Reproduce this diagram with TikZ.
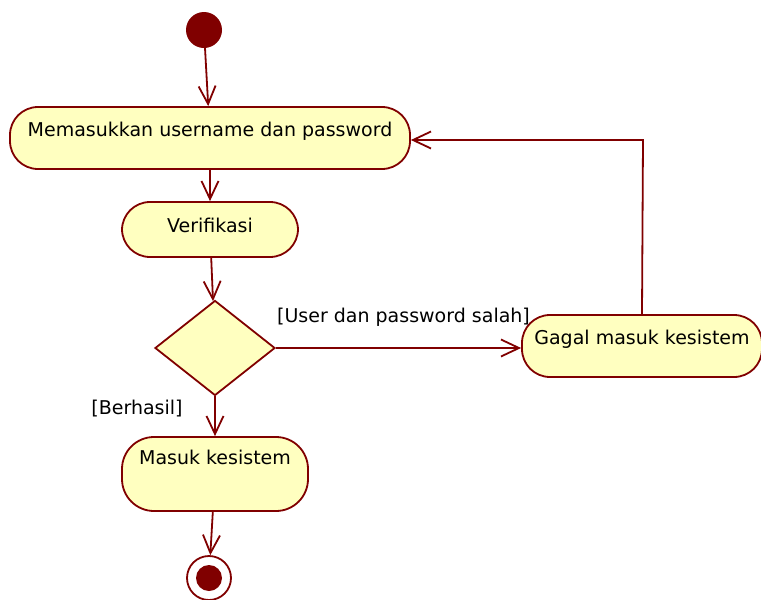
\documentclass[tikz,border=0pt]{standalone}
\usepackage{fontspec}
\setmainfont{DejaVu Sans}
\usepackage{xcolor}
\usepackage{tikz}
\usetikzlibrary{shapes.geometric,arrows.meta,calc}
\definecolor{umlred}{HTML}{800000}
\definecolor{umlfill}{HTML}{FFFFC0}

\begin{document}
\begin{tikzpicture}[x=1pt,y=-1pt]
            \tikzstyle{aktivitas}=[draw=umlred, fill=umlfill, line width=1.8pt, rounded corners=28pt, text height=13pt, text depth=16pt, inner sep=3pt, font=\fontsize{19}{22}\selectfont];
            \tikzstyle{panah}=[draw=umlred, line width=1.8pt, -{Straight Barb[length=18pt,width=17pt]}];
            \useasboundingbox (0,0) rectangle (761,600);

            % Start node
            \node[circle, fill=umlred, minimum size=36pt, inner sep=0pt] (mulai) at (204,30) {};

            % Activities
            \node[aktivitas, minimum width=400pt, minimum height=62pt] (masukan) at (210,138) {Memasukkan username dan password};
            \node[aktivitas, minimum width=176pt, minimum height=55pt, text depth=7pt] (verifikasi) at (210,229.5) {Verifikasi};
            \node[aktivitas, minimum width=240pt, minimum height=62pt] (gagal) at (642,346) {Gagal masuk kesistem};
            \node[aktivitas, minimum width=186pt, minimum height=74pt, text depth=32pt, rounded corners=32pt] (masuk) at (215,474) {Masuk kesistem};

            % Decision
            \node[diamond, draw=umlred, fill=umlfill, line width=1.8pt, minimum width=120pt, minimum height=95pt, inner sep=0pt] (keputusan) at (215,348) {};

            % End node
            \node[circle, draw=umlred, fill=white, line width=1.8pt, minimum size=44pt, inner sep=0pt] (akhir) at (209,578) {};
            \fill[umlred] (akhir) circle (13pt);

            % Flow
            \draw[panah] (mulai) -- (masukan);
            \draw[panah] (masukan) -- (verifikasi);
            \draw[panah] (verifikasi) -- (keputusan);
            \draw[panah] (keputusan.east) -- (keputusan.east -| gagal.west) node[midway, above=17pt, xshift=5pt, font=\fontsize{19}{22}\selectfont] {[User dan password salah]};
            \draw[panah] (keputusan.south) -- (masuk.north);
            \draw[panah] (masuk) -- (akhir);
            \node[font=\fontsize{19}{22}\selectfont] (berhasil) at (137,409) {[Berhasil]};

            % Back to login
            \coordinate (belok) at (643,140);
            \draw[panah] (gagal.north) -- (belok) -- (belok -| masukan.east);
        \end{tikzpicture}
\end{document}
